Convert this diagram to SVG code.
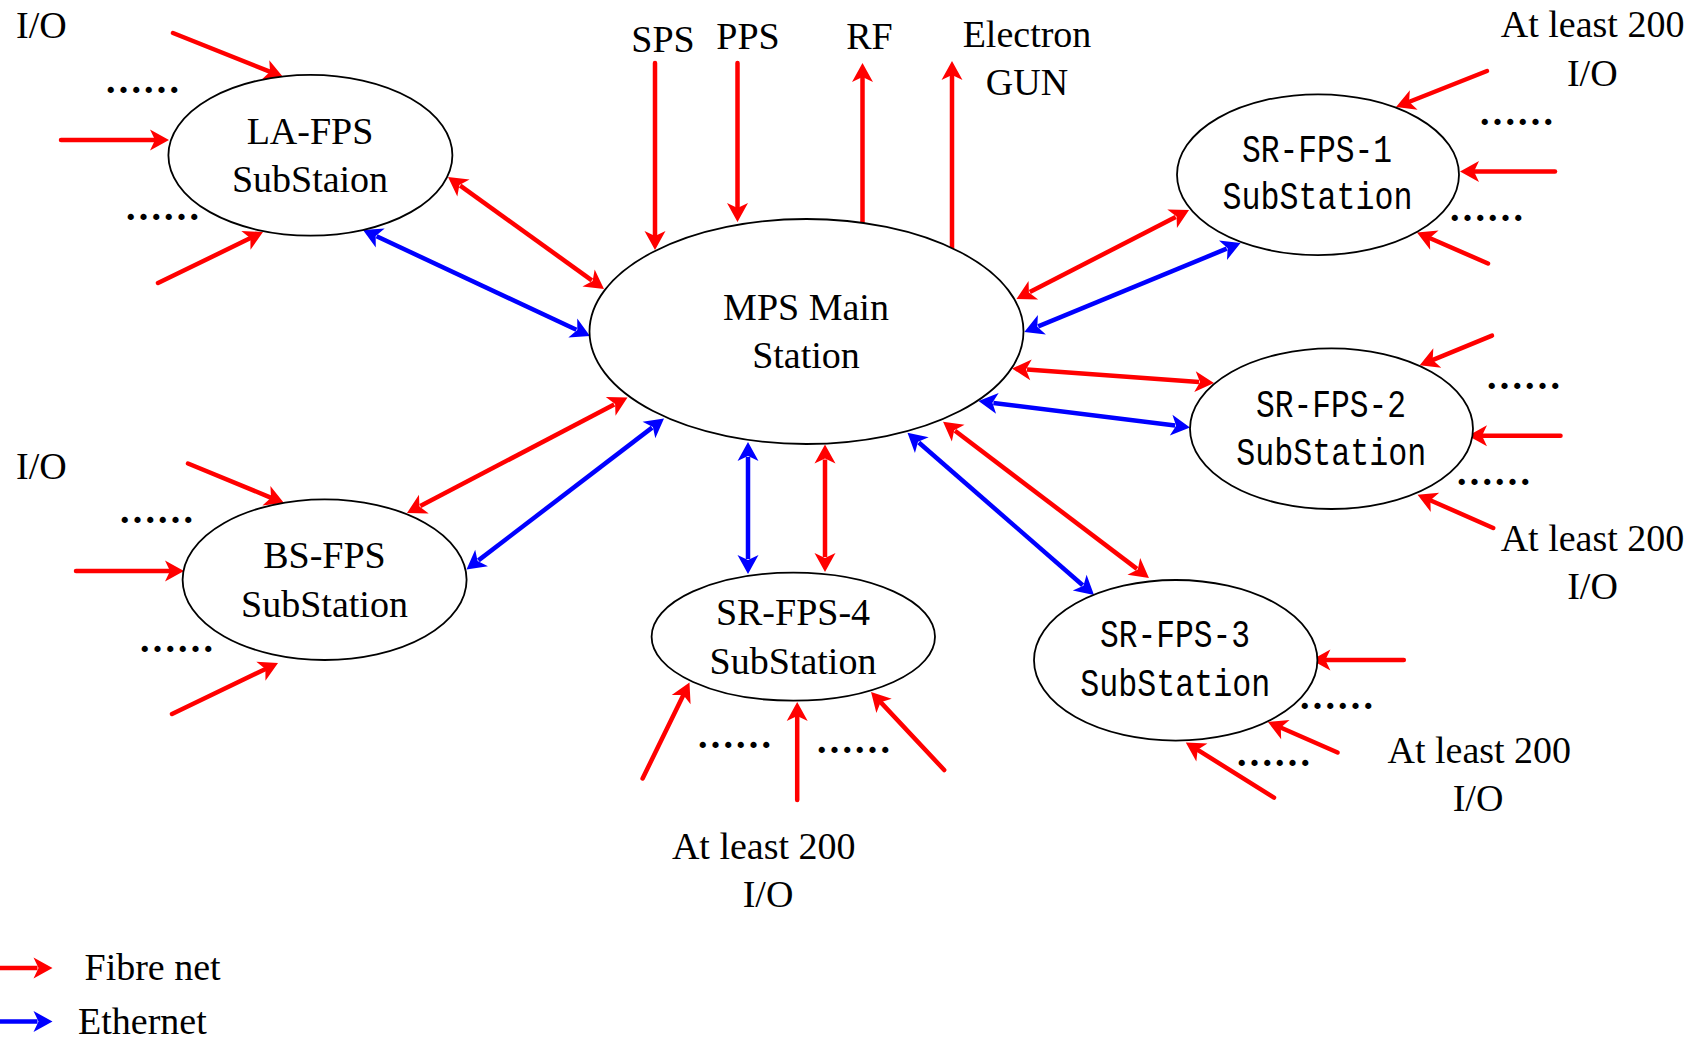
<svg xmlns="http://www.w3.org/2000/svg" width="1696" height="1040" viewBox="0 0 1696 1040">
  <style>
    .node { fill: #ffffff; stroke: #000000; stroke-width: 1.8; }
    .lbl { font-family: "Liberation Serif", "Times New Roman", serif; font-size: 38px; fill: #000000; }
    .mono { font-family: "Liberation Mono", "Courier New", monospace; font-size: 38px; fill: #000000; }
    .mid { text-anchor: middle; }
    .dots { font-family: "Liberation Serif", "Times New Roman", serif; font-size: 38px; font-weight: bold; letter-spacing: 3.2px; fill: #000000; }
    .fib { stroke: #ff0000; stroke-width: 4.5; stroke-linecap: round; fill: none; marker-end: url(#headR); }
    .fib2 { stroke: #ff0000; stroke-width: 4.5; fill: none; marker-start: url(#headR); marker-end: url(#headR); }
    .eth { stroke: #0000ff; stroke-width: 4.5; stroke-linecap: round; fill: none; marker-end: url(#headB); }
    .eth2 { stroke: #0000ff; stroke-width: 4.5; fill: none; marker-start: url(#headB); marker-end: url(#headB); }
  </style>
  <defs>
    <marker id="headR" markerUnits="userSpaceOnUse" viewBox="-5 -12 22 24" refX="0" refY="0" markerWidth="22" markerHeight="24" orient="auto-start-reverse">
      <path d="M15,0 L-4,-10.5 L1,0 L-4,10.5 Z" fill="#ff0000"/>
    </marker>
    <marker id="headB" markerUnits="userSpaceOnUse" viewBox="-5 -12 22 24" refX="0" refY="0" markerWidth="22" markerHeight="24" orient="auto-start-reverse">
      <path d="M15,0 L-4,-10.5 L1,0 L-4,10.5 Z" fill="#0000ff"/>
    </marker>
  </defs>

  <rect width="1696" height="1040" fill="#ffffff"/>

  <!-- connectors -->
  <g id="connectors">
    <!-- LA-FPS inputs -->
    <line class="fib" x1="173" y1="33" x2="269.1" y2="71.4"/>
    <line class="fib" x1="61" y1="140" x2="154" y2="140"/>
    <line class="fib" x1="158" y1="283" x2="249.5" y2="238.6"/>
    <!-- signals at top of main station -->
    <line class="fib" x1="655" y1="63" x2="655" y2="235"/>
    <line class="fib" x1="737.5" y1="63" x2="737.5" y2="207"/>
    <line class="fib" x1="862.5" y1="224" x2="862.5" y2="78"/>
    <line class="fib" x1="952" y1="249" x2="952" y2="76"/>
    <!-- main station links -->
    <line class="fib2" x1="460.2" y1="185.7" x2="591.8" y2="280.3"/>
    <line class="eth2" x1="376.6" y1="236.3" x2="576.4" y2="329.7"/>
    <line class="fib2" x1="1029.8" y1="292.1" x2="1175.7" y2="216.9"/>
    <line class="eth2" x1="1038.2" y1="326.3" x2="1226.7" y2="248.7"/>
    <line class="fib2" x1="1027" y1="369.6" x2="1199" y2="381.9"/>
    <line class="eth2" x1="993.4" y1="402.9" x2="1175.1" y2="425.6"/>
    <line class="fib2" x1="955" y1="430.8" x2="1137" y2="568.9"/>
    <line class="eth2" x1="918.8" y1="442.5" x2="1082.7" y2="585.2"/>
    <line class="eth2" x1="748" y1="457" x2="748" y2="559"/>
    <line class="fib2" x1="825" y1="459.5" x2="825" y2="557"/>
    <line class="fib2" x1="614.2" y1="404.5" x2="420.3" y2="506"/>
    <line class="eth2" x1="652.1" y1="427.6" x2="478.4" y2="560.4"/>
    <!-- BS-FPS inputs -->
    <line class="fib" x1="188" y1="463.5" x2="270.1" y2="497.3"/>
    <line class="fib" x1="76" y1="571" x2="169" y2="571"/>
    <line class="fib" x1="172" y1="714" x2="264.5" y2="669.5"/>
    <!-- SR-FPS-4 inputs -->
    <line class="fib" x1="642.6" y1="778.5" x2="682.9" y2="696"/>
    <line class="fib" x1="797.2" y1="800" x2="797.2" y2="717"/>
    <line class="fib" x1="944.2" y1="770" x2="881.3" y2="702.9"/>
    <!-- SR-FPS-1 inputs -->
    <line class="fib" x1="1487" y1="71" x2="1410" y2="101.5"/>
    <line class="fib" x1="1555" y1="171.5" x2="1475" y2="171.5"/>
    <line class="fib" x1="1488" y1="263.5" x2="1430.7" y2="238.5"/>
    <!-- SR-FPS-2 inputs -->
    <line class="fib" x1="1492" y1="335.7" x2="1433.6" y2="359.6"/>
    <line class="fib" x1="1560.5" y1="435.8" x2="1483" y2="435.8"/>
    <line class="fib" x1="1493.2" y1="528" x2="1431.3" y2="500.7"/>
    <!-- SR-FPS-3 inputs -->
    <line class="fib" x1="1403.8" y1="660" x2="1326.4" y2="660"/>
    <line class="fib" x1="1337.6" y1="752.5" x2="1281.7" y2="728"/>
    <line class="fib" x1="1274" y1="797.6" x2="1198.5" y2="750.4"/>
  </g>

  <!-- stations -->
  <g id="mps-main">
    <ellipse class="node" cx="806.5" cy="331.5" rx="217" ry="112.5"/>
    <text class="lbl mid" x="806" y="320">MPS Main</text>
    <text class="lbl mid" x="806" y="368">Station</text>
  </g>
  <g id="la-fps">
    <ellipse class="node" cx="310.4" cy="155.3" rx="142" ry="80.4"/>
    <text class="lbl mid" x="310" y="143.5">LA-FPS</text>
    <text class="lbl mid" x="310" y="192">SubStaion</text>
  </g>
  <g id="bs-fps">
    <ellipse class="node" cx="324.6" cy="579.7" rx="142" ry="80.3"/>
    <text class="lbl mid" x="324.5" y="567.7">BS-FPS</text>
    <text class="lbl mid" x="324.5" y="616.7">SubStation</text>
  </g>
  <g id="sr-fps-4">
    <ellipse class="node" cx="793.3" cy="636.7" rx="141.7" ry="64"/>
    <text class="lbl mid" x="793" y="625">SR-FPS-4</text>
    <text class="lbl mid" x="793" y="674.3">SubStation</text>
  </g>
  <g id="sr-fps-1">
    <ellipse class="node" cx="1318" cy="174.7" rx="141" ry="80.4"/>
    <text class="mono mid" x="1317" y="161.7" textLength="150" lengthAdjust="spacingAndGlyphs">SR-FPS-1</text>
    <text class="mono mid" x="1317.6" y="209" textLength="190" lengthAdjust="spacingAndGlyphs">SubStation</text>
  </g>
  <g id="sr-fps-2">
    <ellipse class="node" cx="1331.5" cy="428.7" rx="141.5" ry="80.3"/>
    <text class="mono mid" x="1331" y="416.7" textLength="150" lengthAdjust="spacingAndGlyphs">SR-FPS-2</text>
    <text class="mono mid" x="1331.3" y="465" textLength="190" lengthAdjust="spacingAndGlyphs">SubStation</text>
  </g>
  <g id="sr-fps-3">
    <ellipse class="node" cx="1175.7" cy="660.3" rx="141.7" ry="80.3"/>
    <text class="mono mid" x="1175" y="646.7" textLength="150" lengthAdjust="spacingAndGlyphs">SR-FPS-3</text>
    <text class="mono mid" x="1175.3" y="695.7" textLength="190" lengthAdjust="spacingAndGlyphs">SubStation</text>
  </g>

  <!-- signal names and I/O notes -->
  <g id="labels">
    <text class="lbl" x="16" y="38">I/O</text>
    <text class="lbl" x="16" y="478.5">I/O</text>
    <text class="lbl mid" x="663" y="51.7">SPS</text>
    <text class="lbl mid" x="748" y="49.3">PPS</text>
    <text class="lbl mid" x="869.4" y="49.3">RF</text>
    <text class="lbl mid" x="1027" y="46.7">Electron</text>
    <text class="lbl mid" x="1027" y="95">GUN</text>
    <text class="lbl mid" x="1592.6" y="36.5">At least 200</text>
    <text class="lbl mid" x="1592.3" y="85.5">I/O</text>
    <text class="lbl mid" x="1592.5" y="550.5">At least 200</text>
    <text class="lbl mid" x="1592.5" y="599">I/O</text>
    <text class="lbl mid" x="1479.3" y="762.5">At least 200</text>
    <text class="lbl mid" x="1478" y="810.5">I/O</text>
    <text class="lbl mid" x="763.7" y="859">At least 200</text>
    <text class="lbl mid" x="768" y="906.5">I/O</text>
  </g>

  <!-- ellipsis marks between input lines -->
  <g id="ellipses">
    <text class="dots" x="106" y="92.5">......</text>
    <text class="dots" x="126" y="219.5">......</text>
    <text class="dots" x="120" y="523">......</text>
    <text class="dots" x="140" y="651.5">......</text>
    <text class="dots" x="698" y="747.5">......</text>
    <text class="dots" x="817" y="752.5">......</text>
    <text class="dots" x="1480" y="124.5">......</text>
    <text class="dots" x="1450" y="220.5">......</text>
    <text class="dots" x="1487" y="388.5">......</text>
    <text class="dots" x="1457" y="485">......</text>
    <text class="dots" x="1300" y="709">......</text>
    <text class="dots" x="1237" y="766">......</text>
  </g>

  <!-- legend -->
  <g id="legend">
    <line class="fib" x1="0" y1="968" x2="37.5" y2="968" style="stroke-linecap:butt"/>
    <text class="lbl" x="84.5" y="980">Fibre net</text>
    <line class="eth" x1="0" y1="1021.5" x2="37.5" y2="1021.5" style="stroke-linecap:butt"/>
    <text class="lbl" x="78" y="1034">Ethernet</text>
  </g>
</svg>
